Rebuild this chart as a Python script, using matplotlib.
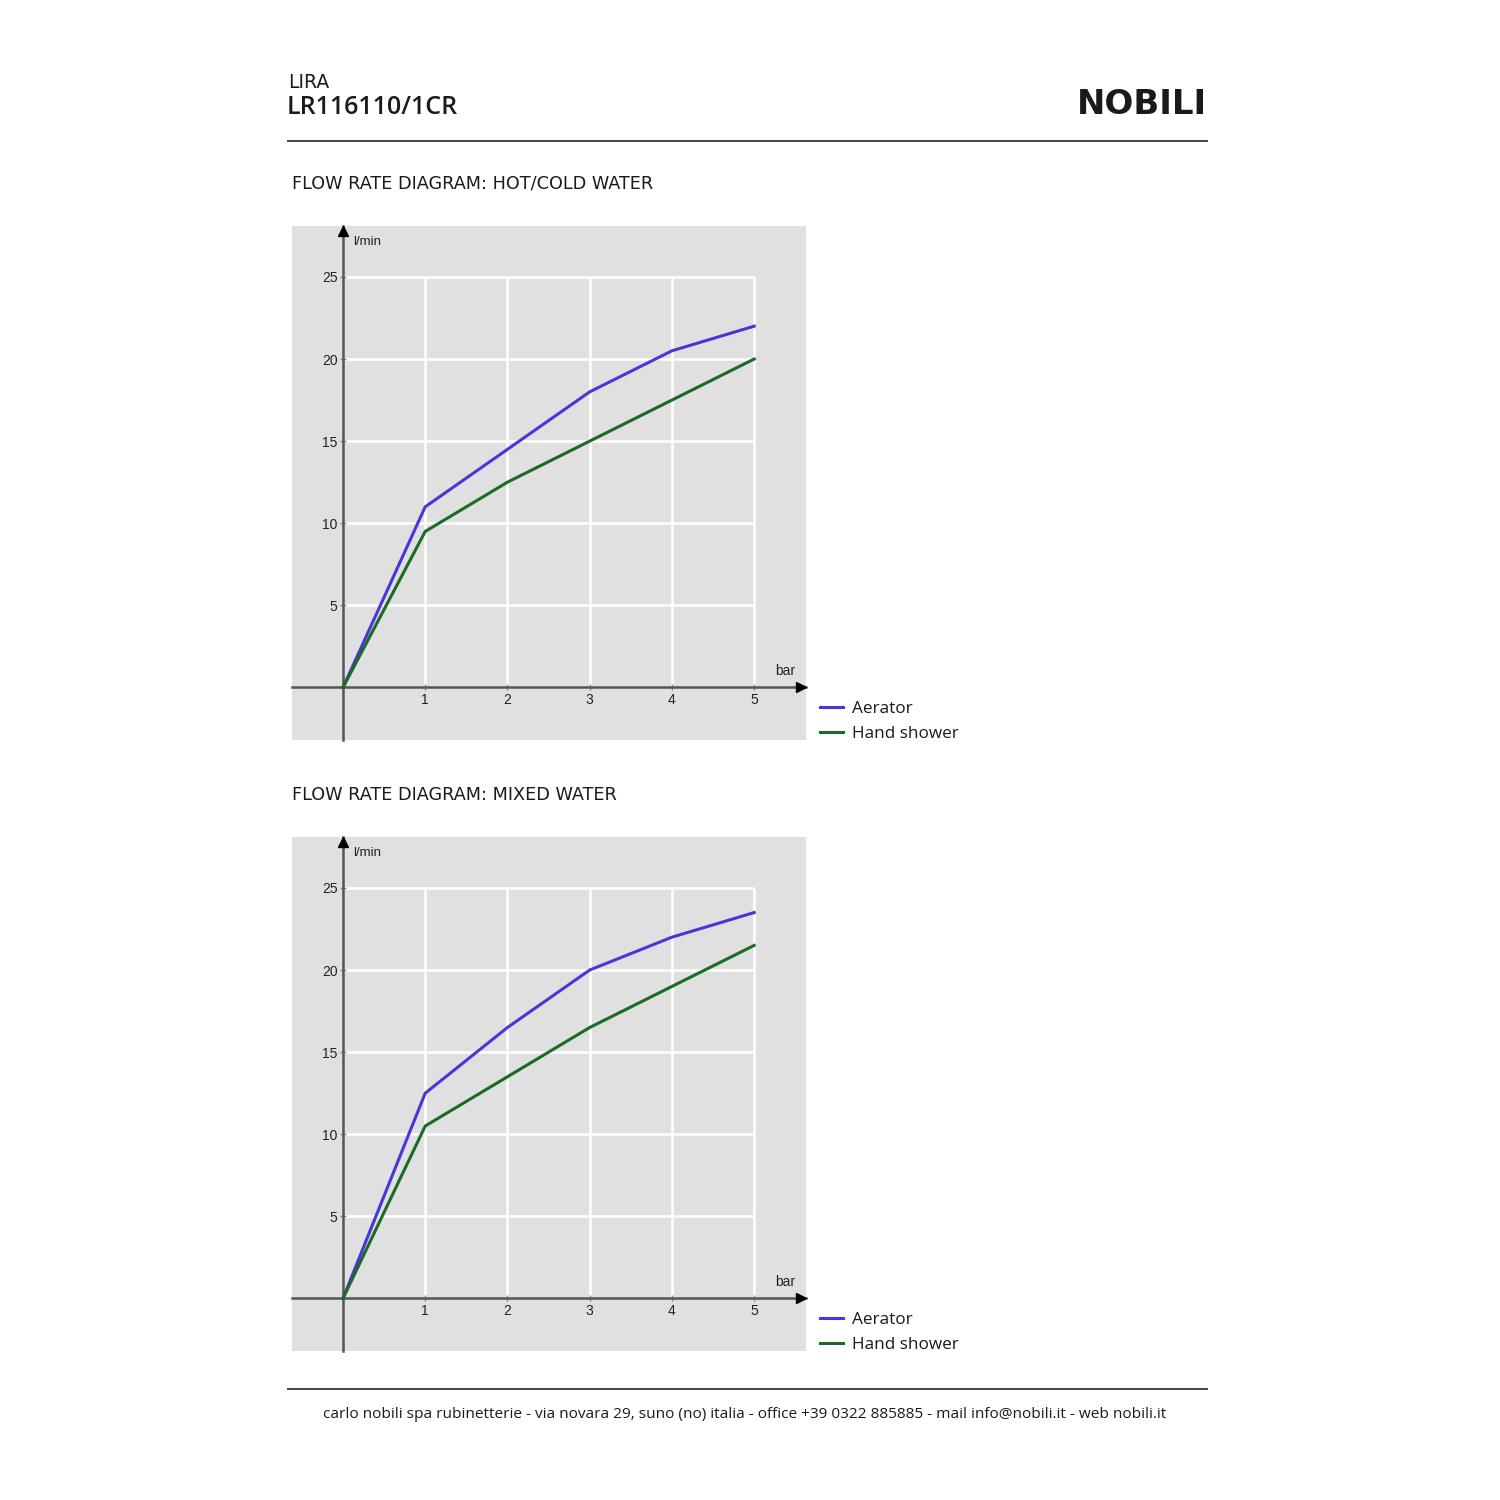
import matplotlib
matplotlib.use("Agg")
import matplotlib.pyplot as plt
from matplotlib.lines import Line2D

# ---------------- data ----------------
pressure_bar = [0, 1, 2, 3, 4, 5]
hotcold_aerator = [0, 11.0, 14.5, 18.0, 20.5, 22.0]
hotcold_hand_shower = [0, 9.5, 12.5, 15.0, 17.5, 20.0]
mixed_aerator = [0, 12.5, 16.5, 20.0, 22.0, 23.5]
mixed_hand_shower = [0, 10.5, 13.5, 16.5, 19.0, 21.5]
x_ticks = [1, 2, 3, 4, 5]
y_ticks = [5, 10, 15, 20, 25]
series_labels = ["Aerator", "Hand shower"]
section_titles = ["FLOW RATE DIAGRAM: HOT/COLD WATER", "FLOW RATE DIAGRAM: MIXED WATER"]

AER_COL = "#4a35d8"
HAND_COL = "#1b6b24"
AX_COL = "#555555"
TXT = "#1a1a1a"
HEAD_FONT = ["Open Sans", "DejaVu Sans"]
WIDE_FONT = ["DejaVu Sans"]
TICK_FONT = ["Liberation Sans Narrow", "Liberation Sans", "DejaVu Sans"]

W = H = 1500
fig = plt.figure(figsize=(15, 15), dpi=100)
fig.patch.set_facecolor("white")


def fx(px):
    return px / W


def fy(py):
    return 1 - py / H


# header
fig.text(fx(288), fy(82), "LIRA", fontsize=13.5, color=TXT, family=WIDE_FONT, va="center", ha="left")
fig.text(fx(287), fy(107), "LR116110/1CR", fontsize=18, color=TXT, family=HEAD_FONT,
         weight="semibold", va="center", ha="left")
fig.text(fx(1207), fy(105), "NOBILI", fontsize=24.5, color=TXT, family=["DejaVu Sans"],
         weight="bold", va="center", ha="right")
fig.add_artist(Line2D([fx(288), fx(1207)], [fy(141), fy(141)], color="#444444", lw=1.4))

# footer
fig.add_artist(Line2D([fx(288), fx(1207)], [fy(1389), fy(1389)], color="#444444", lw=1.4))
fig.text(fx(745), fy(1415),
         "carlo nobili spa rubinetterie - via novara 29, suno (no) italia - office +39 0322 885885 - mail info@nobili.it - web nobili.it",
         fontsize=11.1, color=TXT, family=HEAD_FONT, va="center", ha="center")

panels = [
    (226, section_titles[0], hotcold_aerator, hotcold_hand_shower),
    (837, section_titles[1], mixed_aerator, mixed_hand_shower),
]

for top, title, aer, hand in panels:
    fig.text(fx(292), fy(top - 42), title, fontsize=12.7, color=TXT, family=WIDE_FONT,
             va="center", ha="left")
    ax = fig.add_axes([fx(292), fy(top + 514), fx(514), 514 / H])
    ax.set_facecolor("#e0e0e0")
    ax.set_xlim(-0.62, 5.63)
    ax.set_ylim(-3.2, 28.1)

    ax.vlines(x_ticks, 0, 25, color="white", lw=1.8, zorder=1)
    ax.hlines(y_ticks, 0, 5, color="white", lw=1.8, zorder=1)

    l1, = ax.plot(pressure_bar, aer, color=AER_COL, lw=2.2, zorder=3, label=series_labels[0])
    l2, = ax.plot(pressure_bar, hand, color=HAND_COL, lw=2.2, zorder=3, label=series_labels[1])

    for s in ["top", "right"]:
        ax.spines[s].set_visible(False)
    ax.spines["left"].set_position(("data", 0))
    ax.spines["bottom"].set_position(("data", 0))
    for s in ["left", "bottom"]:
        ax.spines[s].set_color(AX_COL)
        ax.spines[s].set_linewidth(1.8)
        ax.spines[s].set_zorder(2)

    ax.set_xticks(x_ticks)
    ax.set_yticks(y_ticks)
    ax.set_xticklabels([str(v) for v in x_ticks])
    ax.set_yticklabels([str(v) for v in y_ticks])
    ax.tick_params(axis="both", direction="inout", length=4, width=1, color="#888888",
                   labelsize=10, labelcolor="#222222", pad=2)
    for lab in ax.get_xticklabels() + ax.get_yticklabels():
        lab.set_family(TICK_FONT)

    ax.plot(0.99, 0, ">", color="black", ms=7, transform=ax.get_yaxis_transform(), clip_on=False, zorder=4)
    ax.plot(0, 0.99, "^", color="black", ms=7, transform=ax.get_xaxis_transform(), clip_on=False, zorder=4)

    ax.text(0.12, 27.1, "l/min", fontsize=9.5, family=TICK_FONT, color="#222222", va="center", ha="left")
    ax.text(5.38, 1.0, "bar", fontsize=10, family=TICK_FONT, color="#222222", va="center", ha="center")

    ax.legend(handles=[l1, l2], loc="upper left",
              bbox_to_anchor=(fx(820), fy(top + 474.5)), bbox_transform=fig.transFigure,
              frameon=False, handlelength=1.35, handletextpad=0.53,
              labelspacing=0.58, borderaxespad=0, borderpad=0,
              prop={"family": HEAD_FONT, "size": 12.3})
    leg = ax.get_legend()
    for t in leg.get_texts():
        t.set_color(TXT)

fig.savefig("out.png", dpi=100, facecolor="white")
